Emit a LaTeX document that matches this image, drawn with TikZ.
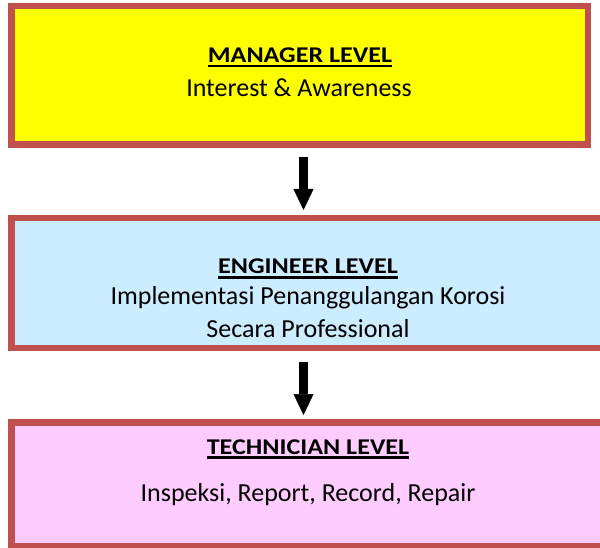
\documentclass[tikz,border=0pt]{standalone}
\usepackage{fontspec}
\setmainfont{Carlito}
\usepackage{graphicx}
\usetikzlibrary{arrows.meta}
\definecolor{bord}{HTML}{C0504D}
\definecolor{yel}{HTML}{FFFF00}
\definecolor{lblue}{HTML}{CCECFF}
\definecolor{lpink}{HTML}{FFCCFF}
\begin{document}
\begin{tikzpicture}[x=1pt,y=-1pt,
  box/.style={draw=bord, line width=6.5pt, inner sep=0pt, outer sep=0pt, rectangle},
  head/.style={anchor=base, inner sep=0pt, outer sep=0pt, font=\fontsize{22.5}{27}\selectfont\bfseries},
  body/.style={anchor=base, inner sep=0pt, outer sep=0pt, font=\fontsize{26}{31}\selectfont},
  uline/.style={line width=2.5pt},
  arr/.style={line width=9pt, -{Triangle[width=20pt,length=21pt,line width=0.5pt]}}]
\useasboundingbox (0,0) rectangle (600,548);
\node[box, fill=yel, minimum width=576.5pt, minimum height=138.5pt] (b1) at (299.5,75.5) {};
\node[box, fill=lblue, minimum width=593.5pt, minimum height=129.5pt] (b2) at (308,283) {};
\node[box, fill=lpink, minimum width=593.5pt, minimum height=124pt] (b3) at (308,484.25) {};
\node[head] (h1) at (300,62.5) {\scalebox{1.16}[1]{MANAGER LEVEL}};
\draw[uline] ([yshift=-3.5pt]h1.base west) -- ([yshift=-3.5pt]h1.base east);
\node[body] (t1) at (299,97) {Interest \& Awareness};
\node[head] (h2) at (308,274) {\scalebox{1.16}[1]{ENGINEER LEVEL}};
\draw[uline] ([yshift=-3.5pt]h2.base west) -- ([yshift=-3.5pt]h2.base east);
\node[body] (t2a) at (308,305) {Implementasi Penanggulangan Korosi};
\node[body] (t2b) at (308,337) {Secara Professional};
\node[head] (h3) at (308,454) {\scalebox{1.16}[1]{TECHNICIAN LEVEL}};
\draw[uline] ([yshift=-3.5pt]h3.base west) -- ([yshift=-3.5pt]h3.base east);
\node[body] (t3) at (308,501) {Inspeksi, Report, Record, Repair};
\coordinate (ax) at (303.5,0);
\draw[arr, shorten <=12.25pt, shorten >=8.25pt] (b1.south -| ax) -- (b2.north -| ax);
\draw[arr, shorten <=14.25pt, shorten >=7.25pt] (b2.south -| ax) -- (b3.north -| ax);
\end{tikzpicture}
\end{document}
